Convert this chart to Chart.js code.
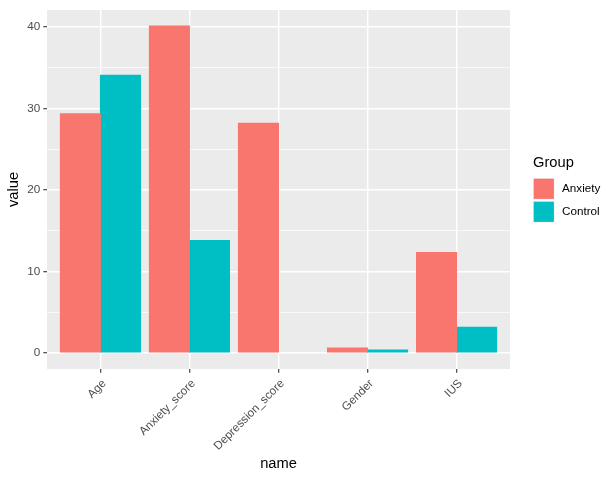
<!DOCTYPE html>
<html>
<head>
<meta charset="utf-8">
<script src="https://cdn.jsdelivr.net/npm/chart.js@4/dist/chart.umd.min.js"></script>
<style>
html,body{margin:0;padding:0;background:#fff;}
#wrap{width:616px;height:480px;position:relative;}
</style>
</head>
<body>
<div id="wrap"><canvas id="c" width="616" height="480"></canvas></div>
<script>
const categories = ["Age", "Anxiety_score", "Depression_score", "Gender", "IUS"];
const anxietyValues = [29.35, 40.15, 28.2, 0.57, 12.3];
const controlValues = [34.1, 13.8, 0, 0.33, 3.14];
const groupNames = ["Anxiety", "Control"];
const yTickValues = [0, 5, 10, 15, 20, 25, 30, 35, 40];

const colors = ["#F8766D", "#00BFC4"];
const FONT = "'Liberation Sans', Arial, sans-serif";

const panelBg = {
  id: 'panelBg',
  beforeDraw(chart) {
    const a = chart.chartArea, ctx = chart.ctx;
    ctx.save();
    ctx.fillStyle = '#EBEBEB';
    ctx.fillRect(a.left, a.top, a.right - a.left, a.bottom - a.top);
    ctx.restore();
  }
};

const customLegend = {
  id: 'customLegend',
  afterDraw(chart) {
    const ctx = chart.ctx;
    ctx.save();
    ctx.fillStyle = '#000';
    ctx.font = '14.7px ' + FONT;
    ctx.textAlign = 'left';
    ctx.textBaseline = 'alphabetic';
    ctx.fillText('Group', 533, 167);
    const keyX = 533, keyY0 = 178, keyH = 21.6, keyW = 21.6;
    chart.data.datasets.forEach((ds, i) => {
      const y = keyY0 + i * (keyH + 1.4);
      ctx.fillStyle = '#F2F2F2';
      ctx.fillRect(keyX, y, keyW, keyH);
      ctx.fillStyle = ds.backgroundColor;
      ctx.fillRect(keyX + 0.7, y + 0.7, keyW - 1.4, keyH - 1.4);
      ctx.fillStyle = '#000';
      ctx.font = '11.7px ' + FONT;
      ctx.textBaseline = 'middle';
      ctx.fillText(ds.label, 562, y + keyH / 2);
    });
    ctx.restore();
  }
};

const datasets = [anxietyValues, controlValues].map((vals, i) => ({
  label: groupNames[i],
  data: vals.map((v, j) => ({ x: j + 1, y: v })),
  backgroundColor: colors[i],
  borderColor: colors[i],
  borderWidth: 0,
  inflateAmount: (ctx) => (ctx.raw && ctx.raw.y === 0) ? 0 : 0.5,
  categoryPercentage: 0.9,
  barPercentage: 1.0,
  grouped: true
}));

new Chart(document.getElementById('c'), {
  type: 'bar',
  data: { datasets },
  plugins: [panelBg, customLegend],
  options: {
    responsive: false,
    animation: false,
    devicePixelRatio: 1,
    layout: { padding: { left: 0, right: 106, top: 7, bottom: 0 } },
    plugins: { legend: { display: false }, tooltip: { enabled: false } },
    scales: {
      x: {
        type: 'linear',
        min: 0.4,
        max: 5.6,
        offset: false,
        afterBuildTicks(scale) { scale.ticks = categories.map((c, i) => ({ value: i + 1 })); },
        afterFit(scale) { scale.height = 111; },
        border: { display: false },
        grid: {
          offset: false,
          color: '#FFFFFF',
          lineWidth: 1.42,
          tickColor: '#333333',
          tickLength: 3.7,
          tickWidth: 1.1,
          drawOnChartArea: true
        },
        ticks: {
          autoSkip: false,
          maxRotation: 45,
          minRotation: 45,
          padding: 4,
          labelOffset: 4,
          color: '#4D4D4D',
          font: { family: FONT, size: 11.7 },
          callback: (v) => categories[Math.round(v) - 1] || ''
        },
        title: {
          display: true,
          text: 'name',
          color: '#000',
          font: { family: FONT, size: 14.7 },
          padding: { top: 0, bottom: 7 }
        }
      },
      y: {
        type: 'linear',
        min: -2.0,
        max: 42.1,
        afterBuildTicks(scale) { scale.ticks = yTickValues.map(v => ({ value: v })); },
        afterFit(scale) { scale.width = 47; },
        border: { display: false },
        grid: {
          color: '#FFFFFF',
          lineWidth: (ctx) => (ctx.tick && ctx.tick.value % 10 === 0) ? 1.42 : 0.71,
          tickColor: (ctx) => (ctx.tick && ctx.tick.value % 10 === 0) ? '#333333' : 'rgba(0,0,0,0)',
          tickLength: 3.7,
          tickWidth: 1.1
        },
        ticks: {
          padding: 3,
          color: '#4D4D4D',
          font: { family: FONT, size: 11.7 },
          callback: (v) => (v % 10 === 0) ? String(v) : ''
        },
        title: {
          display: true,
          text: 'value',
          color: '#000',
          font: { family: FONT, size: 14.7 },
          padding: { top: 5, bottom: 0 }
        }
      }
    }
  }
});
</script>
</body>
</html>
